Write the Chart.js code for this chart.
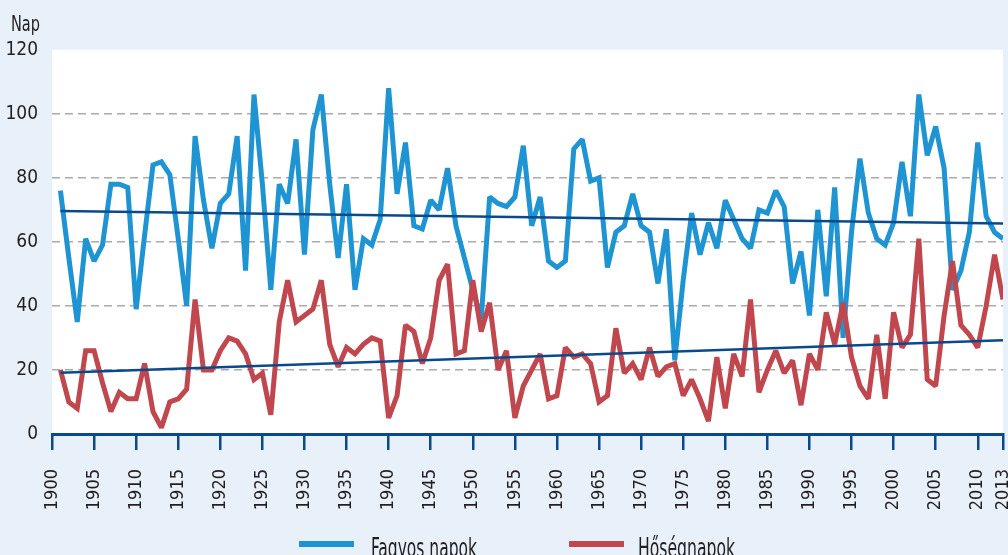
<!DOCTYPE html>
<html>
<head>
<meta charset="utf-8">
<script src="https://cdn.jsdelivr.net/npm/chart.js@4"></script>
<style>
  html, body { margin: 0; padding: 0; background: #e8f0f9; overflow: hidden; }
  canvas { display: block; }
</style>
</head>
<body>
<canvas id="chart" width="1008" height="555"></canvas>
<script>
const FONT = "'Liberation Sans Narrow', 'DejaVu Sans Condensed', 'Arial Narrow', sans-serif";

// years 1901..2013
const firstYear = 1901;

const fagyosNapok = [
  76, 55, 35, 61, 54, 59, 78, 78, 77, 39,   // 1901-1910
  62, 84, 85, 81, 61, 40, 93, 73, 58, 72,   // 1911-1920
  75, 93, 51, 106, 78, 45, 78, 72, 92, 56,  // 1921-1930
  95, 106, 78, 55, 78, 45, 61, 59, 67, 108, // 1931-1940
  75, 91, 65, 64, 73, 70, 83, 65, 55, 45,   // 1941-1950
  36, 74, 72, 71, 74, 90, 65, 74, 54, 52,   // 1951-1960
  54, 89, 92, 79, 80, 52, 63, 65, 75, 65,   // 1961-1970
  63, 47, 64, 23, 48, 69, 56, 66, 58, 73,   // 1971-1980
  67, 61, 58, 70, 69, 76, 71, 47, 57, 37,   // 1981-1990
  70, 43, 77, 30, 63, 86, 69, 61, 59, 66,   // 1991-2000
  85, 68, 106, 87, 96, 83, 45, 51, 63, 91,  // 2001-2010
  68, 63, 61                                // 2011-2013
];

const hosegNapok = [
  20, 10, 8, 26, 26, 16, 7, 13, 11, 11,     // 1901-1910
  22, 7, 2, 10, 11, 14, 42, 20, 20, 26,     // 1911-1920
  30, 29, 25, 17, 19, 6, 35, 48, 35, 37,    // 1921-1930
  39, 48, 28, 21, 27, 25, 28, 30, 29, 5,    // 1931-1940
  12, 34, 32, 22, 30, 48, 53, 25, 26, 48,   // 1941-1950
  32, 41, 20, 26, 5, 15, 20, 25, 11, 12,    // 1951-1960
  27, 24, 25, 22, 10, 12, 33, 19, 22, 17,   // 1961-1970
  27, 18, 21, 22, 12, 17, 11, 4, 24, 8,     // 1971-1980
  25, 18, 42, 13, 20, 26, 19, 23, 9, 25,    // 1981-1990
  20, 38, 28, 41, 24, 15, 11, 31, 11, 38,   // 1991-2000
  27, 31, 61, 17, 15, 37, 54, 34, 31, 27,   // 2001-2010
  40, 56, 42                                // 2011-2013
];

const trendYears = [1901, 2013];
const fagyosTrend = [69.6, 65.7];
const hosegTrend = [19.1, 29.3];

const xTicks = [1900, 1905, 1910, 1915, 1920, 1925, 1930, 1935, 1940, 1945, 1950,
  1955, 1960, 1965, 1970, 1975, 1980, 1985, 1990, 1995, 2000, 2005, 2010, 2013];
const yTicks = [0, 20, 40, 60, 80, 100, 120];

const BLUE = '#1f94d2';
const RED = '#c1474f';
const TREND = '#0b4a8a';
const TEXT = '#231f20';

const toPoints = (years, vals) => vals.map((v, i) => ({ x: years[i], y: v }));
const seriesYears = fagyosNapok.map((_, i) => firstYear + i);

// draws text squeezed to a given width (the original uses a condensed face)
function narrowText(ctx, text, x, y, width) {
  const w = ctx.measureText(text).width;
  ctx.save();
  ctx.translate(x, y);
  ctx.scale(width / w, 1);
  ctx.fillText(text, 0, 0);
  ctx.restore();
}

const frame = {
  id: 'frame',
  beforeDraw(chart) {
    const { ctx, chartArea: a } = chart;
    ctx.save();
    ctx.fillStyle = '#ffffff';
    ctx.fillRect(a.left, a.top, a.right - a.left, a.bottom - a.top);
    ctx.restore();
  },
  beforeDatasetsDraw(chart) {
    chart.ctx.save();
    chart.ctx.miterLimit = 2;
  },
  afterDatasetsDraw(chart) {
    chart.ctx.restore();
  },
  afterDraw(chart) {
    const ctx = chart.ctx;
    ctx.save();
    ctx.fillStyle = TEXT;
    ctx.textBaseline = 'alphabetic';
    ctx.font = '22px ' + FONT;
    narrowText(ctx, 'Nap', 11, 31, 29);

    // legend
    ctx.lineWidth = 6;
    ctx.strokeStyle = BLUE;
    ctx.beginPath(); ctx.moveTo(299, 544); ctx.lineTo(354, 544); ctx.stroke();
    ctx.strokeStyle = RED;
    ctx.beginPath(); ctx.moveTo(569, 544); ctx.lineTo(624, 544); ctx.stroke();
    ctx.font = '26px ' + FONT;
    narrowText(ctx, 'Fagyos napok', 371, 557, 106);
    narrowText(ctx, 'Hőségnapok', 638, 557, 97);
    ctx.restore();
  }
};

new Chart(document.getElementById('chart'), {
  type: 'line',
  data: {
    datasets: [
      { label: 'Fagyos trend', data: toPoints(trendYears, fagyosTrend), borderColor: TREND, borderWidth: 2.5 },
      { label: 'Hőség trend', data: toPoints(trendYears, hosegTrend), borderColor: TREND, borderWidth: 2.5 },
      { label: 'Hőségnapok', data: toPoints(seriesYears, hosegNapok), borderColor: RED, borderWidth: 5 },
      { label: 'Fagyos napok', data: toPoints(seriesYears, fagyosNapok), borderColor: BLUE, borderWidth: 5 },
    ],
  },
  options: {
    responsive: false,
    animation: false,
    devicePixelRatio: 1,
    elements: {
      point: { radius: 0 },
      line: { tension: 0, fill: false, borderJoinStyle: 'miter', borderCapStyle: 'butt' },
    },
    layout: { padding: { top: 49.7, right: 5, left: 0, bottom: 0 } },
    plugins: { legend: { display: false }, tooltip: { enabled: false } },
    scales: {
      x: {
        type: 'linear',
        min: 1900,
        max: 2013,
        afterBuildTicks: (scale) => { scale.ticks = xTicks.map((v) => ({ value: v })); },
        afterFit: (scale) => { scale.height = 121; scale.paddingLeft = 0; scale.paddingRight = 0; },
        ticks: {
          autoSkip: false,
          minRotation: 90,
          maxRotation: 90,
          padding: 19,
          color: TEXT,
          font: { family: FONT, size: 18 },
          callback: (v) => String(v),
        },
        grid: {
          drawOnChartArea: false,
          drawTicks: true,
          tickLength: 16,
          color: TREND,
          lineWidth: 2.5,
        },
        border: { display: true, color: TREND, width: 3 },
      },
      y: {
        min: 0,
        max: 120,
        afterBuildTicks: (scale) => { scale.ticks = yTicks.map((v) => ({ value: v })); },
        afterFit: (scale) => { scale.width = 52; },
        ticks: {
          padding: 14,
          color: TEXT,
          font: { family: FONT, size: 19 },
        },
        grid: {
          drawTicks: false,
          color: (c) => (c.tick && (c.tick.value === 0 || c.tick.value === 120)) ? 'rgba(0,0,0,0)' : '#aaaaaa',
          lineWidth: 1.5,
        },
        border: { display: false, dash: [8, 5] },
      },
    },
  },
  plugins: [frame],
});
</script>
</body>
</html>
